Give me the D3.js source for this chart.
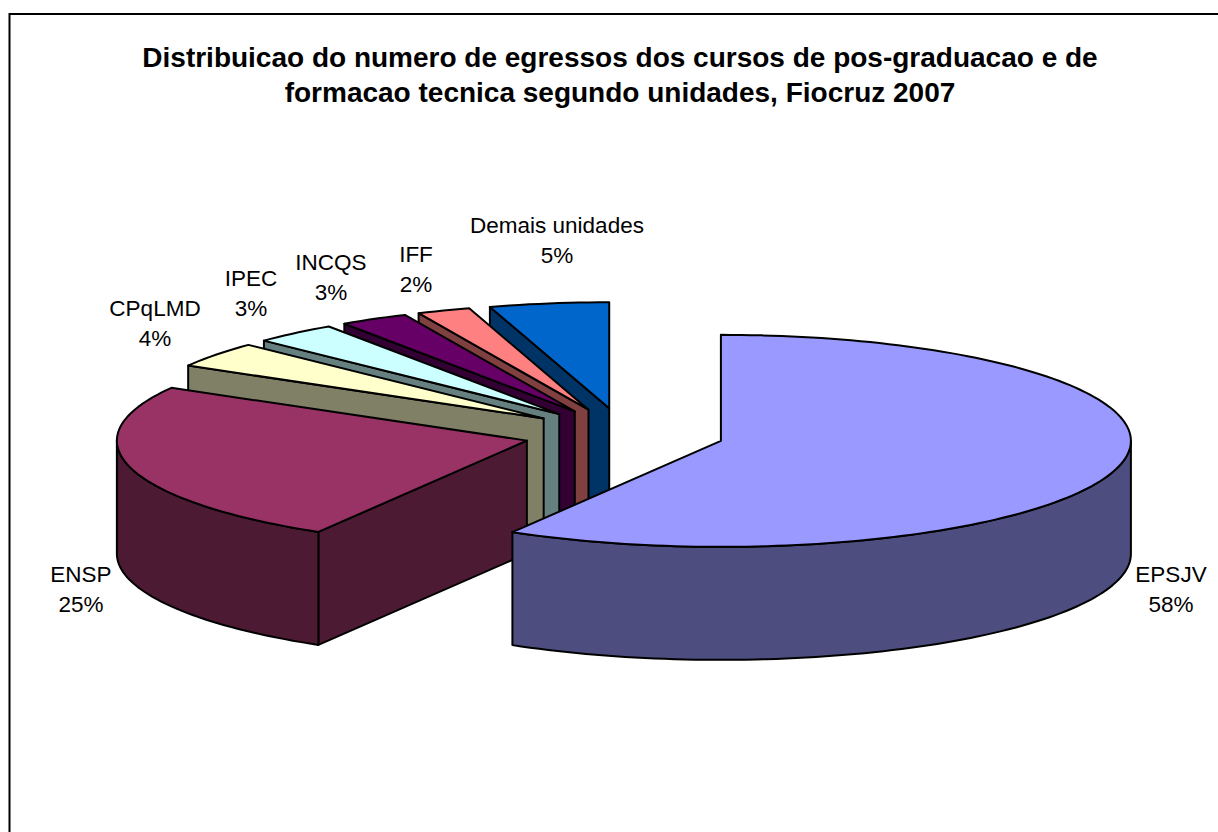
<!DOCTYPE html>
<html><head><meta charset="utf-8">
<script src="https://cdn.jsdelivr.net/npm/d3@7"></script>
<style>html,body{margin:0;padding:0;background:#fff}svg{display:block}text{font-family:"Liberation Sans",Arial,sans-serif;fill:#000}</style>
</head><body><div id="c"></div>
<script>
const categories = ["EPSJV","ENSP","CPqLMD","IPEC","INCQS","IFF","Demais unidades"];
const values = [58.49,24.81,3.9,3.3,2.7,2.1,4.7];
const topColors = ["#9999FF","#993366","#FFFFCC","#CCFFFF","#660066","#FF8080","#0066CC"];
const sideColors = ["#4D4D80","#4D1A33","#808066","#668080","#330033","#804040","#003366"];
const titleLines = ["Distribuicao do numero de egressos dos cursos de pos-graduacao e de","formacao tecnica segundo unidades, Fiocruz 2007"];
const labelCenters = [[1171,574],[81,574],[155,308],[251,278],[331,262],[416,254],[557,225]];

const W=1218,H=832, cx0=624, cy0=434, rx=410, ry=106, depth=113, explode=0.245;
const svg=d3.select("#c").append("svg").attr("width",W).attr("height",H);
svg.append("path").attr("d","M9.5,832V14H1218").attr("fill","none").attr("stroke","#000").attr("stroke-width",2);

const x=d3.scaleLinear().domain([-1,1]).range([cx0-rx,cx0+rx]);
const y=d3.scaleLinear().domain([-1,1]).range([cy0+ry,cy0-ry]);
const arcs=d3.pie().sort(null).startAngle(0).endAngle(2*Math.PI)(values);
const total=d3.sum(values);
const line=d3.line();
const stepsPerRad=40;
function pt(a,t,dz){
  const m=(a.startAngle+a.endAngle)/2;
  const ux=explode*Math.sin(m), uy=explode*Math.cos(m);
  return t==null ? [x(ux),y(uy)+dz] : [x(ux+Math.sin(t)),y(uy+Math.cos(t))+dz];
}
function arcPts(a,t0,t1,dz){
  const n=Math.max(2,Math.ceil((t1-t0)*stepsPerRad));
  return d3.range(n+1).map(i=>pt(a,t0+(t1-t0)*i/n,dz));
}
const order=d3.range(arcs.length).reverse();
const g=svg.append("g").attr("stroke","#000").attr("stroke-width",2).attr("stroke-linejoin","round");
order.forEach(i=>{
  const a=arcs[i];
  if(a.startAngle>Math.PI){
    g.append("path").attr("fill",sideColors[i]).attr("d",line([pt(a,null,0),pt(a,a.startAngle,0),pt(a,a.startAngle,depth),pt(a,null,depth)])+"Z");
  }
  const t0=Math.max(a.startAngle,Math.PI/2), t1=Math.min(a.endAngle,3*Math.PI/2);
  if(t1>t0){
    g.append("path").attr("fill",sideColors[i]).attr("d",line([...arcPts(a,t0,t1,0),...arcPts(a,t0,t1,depth).reverse()])+"Z");
  }
  g.append("path").attr("fill",topColors[i]).attr("d",line([pt(a,null,0),...arcPts(a,a.startAngle,a.endAngle,0)])+"Z");
});

const labels=svg.append("g").attr("text-anchor","middle").attr("font-size",22.5);
const pct=d3.format(".0%");
categories.forEach((c,i)=>{
  const [lx,ly]=labelCenters[i];
  const t=labels.append("text").attr("x",lx).attr("y",ly+8);
  t.append("tspan").attr("x",lx).text(c);
  t.append("tspan").attr("x",lx).attr("dy",30).text(pct(values[i]/total));
});
const title=svg.append("g").attr("text-anchor","middle").attr("font-size",28).attr("font-weight","bold");
titleLines.forEach((s,i)=>title.append("text").attr("x",620).attr("y",67+i*35).text(s));
</script></body></html>
